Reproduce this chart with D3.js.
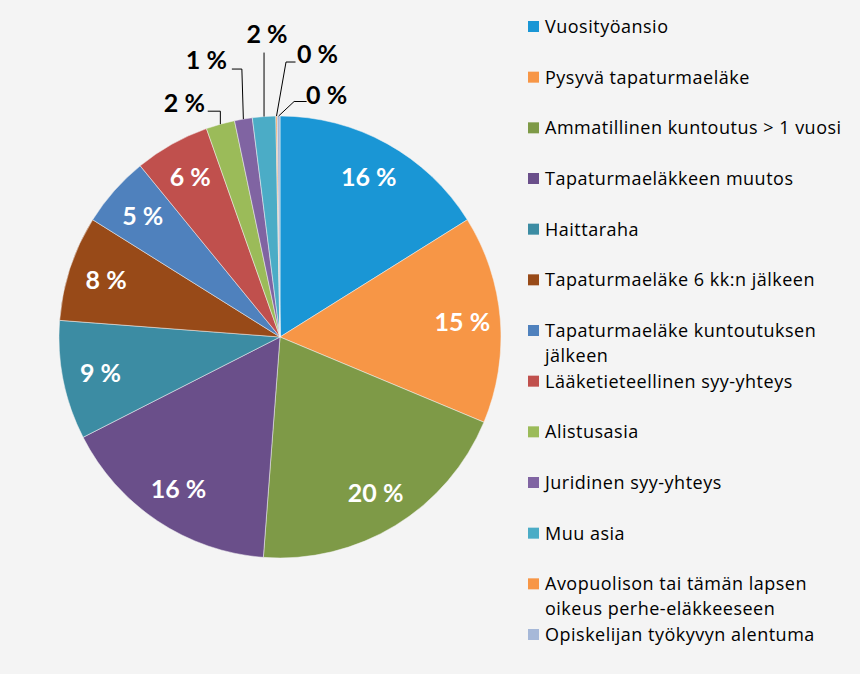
<!DOCTYPE html>
<html>
<head>
<meta charset="utf-8">
<script src="https://cdn.jsdelivr.net/npm/d3@7"></script>
<style>
  html, body { margin: 0; padding: 0; background: #f4f4f4; }
  svg { display: block; font-family: Lato, "Open Sans", sans-serif; }
  .legend text { font-family: "Open Sans", Lato, sans-serif; font-size: 18px; letter-spacing: 0.5px; fill: #000; }
  .lbl { font-size: 25px; font-weight: bold; }
</style>
</head>
<body>
<svg id="chart"></svg>
<script>
// Categories in drawing order (clockwise from 12 o'clock)
const categories = [
  'Vuosityöansio',
  'Pysyvä tapaturmaeläke',
  'Ammatillinen kuntoutus > 1 vuosi',
  'Tapaturmaeläkkeen muutos',
  'Haittaraha',
  'Tapaturmaeläke 6 kk:n jälkeen',
  'Tapaturmaeläke kuntoutuksen jälkeen',
  'Lääketieteellinen syy-yhteys',
  'Alistusasia',
  'Juridinen syy-yhteys',
  'Muu asia',
  'Avopuolison tai tämän lapsen oikeus perhe-eläkkeeseen',
  'Opiskelijan työkyvyn alentuma'
];

// share of cases, %
const shares = [16.1, 15.2, 19.9, 16.3, 8.7, 7.7, 5.2, 5.5, 2.1, 1.3, 1.7, 0.1, 0.2];

const colors = [
  '#1a96d5', '#f79646', '#7e9a47', '#6a4f8a', '#3c8ca3', '#984a18', '#4f81bd',
  '#c0504d', '#9bbb59', '#8064a2', '#4bacc6', '#f79646', '#a6b8d8'
];

// callouts for the thin slices: offsets from the arc point [elbow, line end, label centre]
const callouts = {
  8:  { elbow: [0, -13],    end: [-12.6, -13],  label: [-36, -21] },
  9:  { elbow: [-1.5, -50], end: [-11.5, -50],  label: [-37, -59] },
  10: { elbow: [0, -64],    end: [0, -64],      label: [3, -83] },
  11: { elbow: [9.5, -54],  end: [19, -54],     label: [41, -62] },
  12: { elbow: [15.5, -14.5], end: [28, -14.5], label: [48, -21] }
};

const width = 860;
const height = 674;
const cx = 280;
const cy = 337;
const radius = 221;
const labelRadius = 183;

const svg = d3.select('#chart')
  .attr('width', width)
  .attr('height', height);

svg.append('rect')
  .attr('width', width)
  .attr('height', height)
  .attr('fill', '#f4f4f4');

const rows = categories.map((name, i) => ({ name, value: shares[i], color: colors[i], i }));

const pie = d3.pie()
  .sort(null)
  .value(d => d.value);

const arc = d3.arc()
  .innerRadius(0)
  .outerRadius(radius);

const arcs = pie(rows);

const g = svg.append('g')
  .attr('transform', `translate(${cx},${cy})`);

g.selectAll('.slice')
  .data(arcs)
  .enter()
    .append('path')
    .attr('class', 'slice')
    .attr('d', arc)
    .attr('fill', d => d.data.color)
    .attr('stroke', '#f4f4f4')
    .attr('stroke-width', 0.5);

const pct = v => `${Math.round(v)} %`;
const midAngle = d => (d.startAngle + d.endAngle) / 2;

// labels inside the bigger slices
const inner = arcs.filter(d => !callouts[d.data.i]);
g.selectAll('.inner')
  .data(inner)
  .enter()
    .append('text')
    .attr('class', 'lbl inner')
    .attr('fill', '#fff')
    .attr('text-anchor', 'middle')
    .attr('dy', '0.36em')
    .attr('x', d => labelRadius * Math.sin(midAngle(d)))
    .attr('y', d => -labelRadius * Math.cos(midAngle(d)))
    .text(d => pct(d.data.value));

// callout labels with leader lines
const outer = arcs.filter(d => callouts[d.data.i]);
outer.forEach(d => {
  const c = callouts[d.data.i];
  const ax = radius * Math.sin(midAngle(d));
  const ay = -radius * Math.cos(midAngle(d));
  const pts = [[ax, ay], [ax + c.elbow[0], ay + c.elbow[1]], [ax + c.end[0], ay + c.end[1]]];
  g.append('path')
    .attr('d', d3.line()(pts))
    .attr('fill', 'none')
    .attr('stroke', '#000')
    .attr('stroke-width', 1);
  g.append('text')
    .attr('class', 'lbl')
    .attr('fill', '#000')
    .attr('text-anchor', 'middle')
    .attr('dy', '0.36em')
    .attr('x', ax + c.label[0])
    .attr('y', ay + c.label[1])
    .text(pct(d.data.value));
});

// legend
const legendY = d3.scaleLinear()
  .domain([0, categories.length - 1])
  .range([33, 641]);

const legend = svg.append('g').attr('class', 'legend');
const maxTextWidth = 308;

rows.forEach(d => {
  const y = legendY(d.i);
  legend.append('rect')
    .attr('x', 528)
    .attr('y', y - 12)
    .attr('width', 11)
    .attr('height', 11)
    .attr('fill', d.color);

  const text = legend.append('text')
    .attr('x', 545)
    .attr('y', y);

  // simple word wrap
  const words = d.name.split(' ');
  let line = [];
  let tspan = text.append('tspan').attr('x', 545).attr('y', y);
  let lineNo = 0;
  words.forEach(w => {
    line.push(w);
    tspan.text(line.join(' '));
    if (tspan.node().getComputedTextLength() > maxTextWidth && line.length > 1) {
      line.pop();
      tspan.text(line.join(' '));
      line = [w];
      lineNo++;
      tspan = text.append('tspan').attr('x', 545).attr('y', y + lineNo * 25).text(w);
    }
  });
});
</script>
</body>
</html>
